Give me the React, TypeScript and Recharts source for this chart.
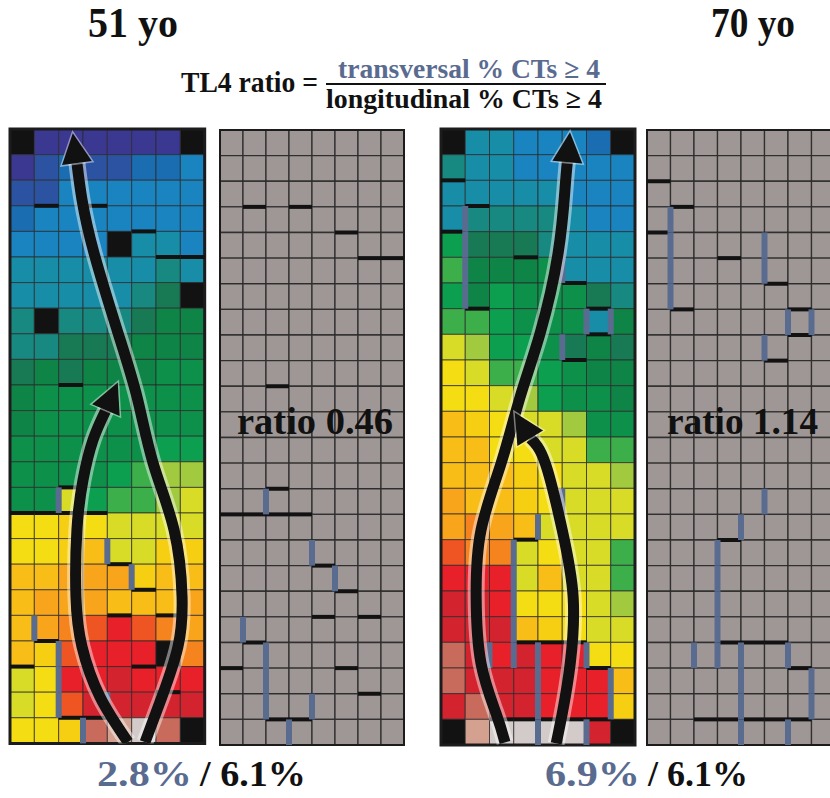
import React from "react";
import { ComposedChart, XAxis, YAxis, ReferenceArea, ReferenceLine, Line } from "recharts";

const COLS = 8;
const ROWS = 24;
const columnIds = Array.from({ length: COLS }, (_, i) => i);
const rowIds = Array.from({ length: ROWS }, (_, i) => i);

// activation-time levels, early (pacing site) -> late
const levelColors = [
  "#d3cbca", "#d4a08f", "#c86b5c", "#d2232f", "#e8202a", "#ef5523", "#f5841f", "#f8a51b",
  "#f9bd17", "#f6cf12", "#f4dd12", "#d8dc27", "#a2ca3f", "#3cae4a", "#0d9f50", "#0d914a",
  "#0e8446", "#177a55", "#178981", "#188da8", "#1a84c0", "#1b6db2", "#2c53a1", "#3b3891",
];
const NO_DATA = "#121212";
const GRAY = "#9f9795";
const SLATE = "#5a6b90";
const SERIF = '"Liberation Serif", "Times New Roman", serif';

// -1 = no data
const levels51 = [
  [-1, 23, 23, 23, 23, 23, 23, -1],
  [23, 22, 21, 22, 22, 21, 21, 20],
  [22, 22, 20, 20, 20, 20, 20, 20],
  [21, 20, 20, 20, 20, 20, 20, 20],
  [20, 20, 20, 20, -1, 19, 19, 20],
  [19, 19, 19, 19, 19, 19, 18, 19],
  [19, 19, 19, 19, 19, 18, 17, -1],
  [18, -1, 18, 18, 18, 17, 16, 16],
  [18, 18, 17, 17, 17, 16, 16, 16],
  [17, 16, 17, 16, 16, 16, 15, 15],
  [16, 15, 15, 15, 15, 15, 15, 15],
  [16, 15, 15, 15, 15, 15, 15, 15],
  [15, 15, 15, 15, 15, 15, 14, 14],
  [15, 15, 15, 15, 14, 13, 12, 12],
  [15, 15, 11, 14, 13, 13, 12, 11],
  [10, 10, 9, 10, 11, 11, 11, 11],
  [10, 10, 9, 8, 11, 11, 9, 9],
  [8, 8, 7, 7, 7, 9, 8, 8],
  [8, 7, 7, 7, 8, 8, 8, 7],
  [8, 7, 6, 5, 4, 5, 6, 7],
  [8, 9, 5, 4, 4, 4, -1, 6],
  [11, 10, 4, 4, 3, 4, 4, 4],
  [11, 10, 5, 3, 3, 3, 3, 3],
  [10, 10, 9, 2, 1, 0, 2, -1],
];

const levels70 = [
  [-1, 19, 19, 20, 20, 20, 21, -1],
  [18, 19, 19, 20, 20, 20, 20, 20],
  [19, 19, 19, 19, 19, 20, 20, 20],
  [19, 18, 18, 18, 18, 19, 20, 20],
  [14, 17, 17, 17, 18, 19, 19, 19],
  [13, 16, 16, 16, 15, 19, 19, 19],
  [14, 16, 14, 15, 15, 15, 17, 18],
  [13, 13, 14, 15, 15, 15, 19, 16],
  [11, 12, 14, 14, 15, 17, 16, 17],
  [10, 11, 13, 13, 14, 15, 16, 16],
  [10, 10, 11, 12, 14, 15, 15, 16],
  [8, 9, 10, 11, 11, 12, 15, 15],
  [8, 8, 10, 10, 11, 11, 13, 13],
  [8, 8, 8, 9, 10, 11, 11, 12],
  [7, 8, 8, 9, 10, 11, 11, 11],
  [7, 6, 7, 8, 11, 11, 11, 11],
  [5, 6, 6, 11, 10, 11, 11, 13],
  [4, 4, 4, 11, 8, 11, 11, 13],
  [3, 3, 4, 10, 10, 10, 11, 12],
  [3, 3, 3, 8, 9, 10, 11, 11],
  [2, 3, 4, 3, 4, 4, 10, 10],
  [2, 3, 3, 3, 4, 4, 4, 8],
  [3, 2, 3, 3, 4, 4, 4, 9],
  [-1, 1, 0, 0, 0, 0, 3, -1],
];

// conduction block: longitudinal = [row boundary, column], transversal = [column boundary, row]
const longBlocks51 = [
  [3, 1], [3, 3], [4, 5], [5, 6], [5, 7], [10, 2], [14, 2], [15, 0], [15, 1], [15, 2], [15, 3],
  [17, 4], [18, 5], [19, 4], [19, 6], [20, 1], [21, 0], [21, 5], [22, 6], [23, 2], [23, 3],
];
const transBlocks51 = [
  [2, 14], [4, 16], [5, 17], [1, 19], [2, 20], [2, 21], [2, 22], [4, 22], [3, 23],
];
const longBlocks70 = [
  [2, 0], [3, 1], [4, 0], [5, 3], [6, 5], [7, 1], [7, 6], [8, 6], [9, 5], [16, 3],
  [20, 3], [20, 4], [20, 5], [21, 6], [23, 2], [23, 3], [23, 4], [23, 5], [23, 6],
];
const transBlocks70 = [
  [1, 3], [1, 4], [1, 5], [1, 6], [5, 4], [5, 5], [6, 7], [7, 7], [5, 8], [5, 14], [4, 15],
  [3, 16], [3, 17], [3, 18], [3, 19], [3, 20], [2, 20], [4, 20], [6, 20], [4, 21], [4, 22],
  [4, 23], [7, 21], [7, 22], [6, 23],
];

// propagation arrows, [column, row] from start to arrow-head base
const arrows51 = [
  [[5.55, 23.95], [6.24, 22.19], [6.9, 20.23], [7.07, 18.28], [6.74, 15.66], [5.88, 13.05],
   [5.22, 10.47], [4.44, 7.97], [3.45, 4.84], [2.96, 2.77], [2.75, 1.33]],
  [[4.85, 23.95], [3.7, 22.19], [2.96, 20.23], [2.71, 18.28], [2.75, 15.66], [3.0, 13.71],
   [3.41, 12.15], [3.94, 10.98]],
];
const arrows70 = [
  [[2.64, 23.9], [2.27, 22.77], [1.65, 20.82], [1.45, 18.25], [1.65, 15.63], [2.48, 13.02],
   [3.26, 10.45], [4.09, 7.95], [4.83, 4.83], [5.12, 2.26], [5.21, 1.29]],
  [[4.75, 23.94], [5.0, 22.77], [5.33, 20.82], [5.45, 18.25], [5.0, 15.63], [4.3, 13.02],
   [3.68, 12.05]],
];

const PAD = 2;

const arrowHead = (pts: any[], cw: number, ch: number) => (props: any) => {
  const { cx, cy, index } = props;
  if (index !== pts.length - 1) return <g key={`d-${index}`} />;
  const p = pts[index];
  const q = pts[index - 1];
  const dx = (p.x - q.x) * cw;
  const dy = (p.y - q.y) * ch;
  const len = Math.hypot(dx, dy) || 1;
  const ux = dx / len;
  const uy = dy / len;
  const L = 30;
  const W = 15;
  const tip = `${cx + ux * L},${cy + uy * L}`;
  const a = `${cx - uy * W},${cy + ux * W}`;
  const b = `${cx + uy * W},${cy - ux * W}`;
  return (
    <polygon key={`d-${index}`} points={`${tip} ${a} ${b}`} fill="#111" stroke="#fff"
      strokeOpacity={0.45} strokeWidth={3} style={{ paintOrder: "stroke" }} />
  );
};

function GridPanel({ left, top, width, height, levels, longBlocks, transBlocks, arrows }: any) {
  const cw = width / COLS;
  const ch = height / ROWS;
  const heat = !!levels;
  return (
    <div style={{ position: "absolute", left: left - PAD, top: top - PAD }}>
      <ComposedChart width={width + 2 * PAD} height={height + 2 * PAD}
        margin={{ top: PAD, right: PAD, bottom: PAD, left: PAD }}>
        <XAxis type="number" dataKey="x" domain={[0, COLS]} hide allowDataOverflow />
        <YAxis type="number" dataKey="y" domain={[0, ROWS]} reversed hide allowDataOverflow />
        {rowIds.map((r) =>
          columnIds.map((c) => {
            const lv = heat ? levels[r][c] : 0;
            const fill = !heat ? GRAY : lv < 0 ? NO_DATA : levelColors[lv];
            return (
              <ReferenceArea key={`cell-${r}-${c}`} x1={c} x2={c + 1} y1={r} y2={r + 1}
                fill={fill} fillOpacity={1} stroke="#2a2a2a" strokeWidth={heat ? 1 : 1.3}
                strokeOpacity={heat ? 0.75 : 0.9} ifOverflow="visible" />
            );
          })
        )}
        <ReferenceArea x1={0} x2={COLS} y1={0} y2={ROWS} fill="none" stroke="#1c1c1c"
          strokeWidth={heat ? 3 : 2} ifOverflow="visible" />
        {longBlocks.map(([b, c]: number[]) => (
          <ReferenceLine key={`h-${b}-${c}`} segment={[{ x: c, y: b }, { x: c + 1, y: b }]}
            stroke="#121212" strokeWidth={4} ifOverflow="visible" />
        ))}
        {transBlocks.map(([c, r]: number[]) => (
          <ReferenceLine key={`v-${c}-${r}`} segment={[{ x: c, y: r }, { x: c, y: r + 1 }]}
            stroke={SLATE} strokeWidth={6} ifOverflow="visible" />
        ))}
        {(arrows || []).map((path: number[][], i: number) => {
          const pts = path.map(([x, y]) => ({ x, y }));
          return [
            <Line key={`glow-${i}`} data={pts} dataKey="y" type="natural" stroke="#ffffff"
              strokeOpacity={0.45} strokeWidth={17} dot={false} activeDot={false}
              isAnimationActive={false} />,
            <Line key={`arrow-${i}`} data={pts} dataKey="y" type="natural" stroke="#111"
              strokeWidth={11} dot={arrowHead(pts, cw, ch)} activeDot={false}
              isAnimationActive={false} />,
          ];
        })}
      </ComposedChart>
    </div>
  );
}

export default function App() {
  const bold = { fontFamily: SERIF, fontWeight: 700 } as const;
  return (
    <div style={{ position: "absolute", left: 0, top: 0, width: 830, height: 798,
      overflow: "hidden", background: "#fff" }}>
      <GridPanel left={10} top={129} width={194.7} height={614.4} levels={levels51}
        longBlocks={longBlocks51} transBlocks={transBlocks51} arrows={arrows51} />
      <GridPanel left={220} top={130} width={184} height={615}
        longBlocks={longBlocks51} transBlocks={transBlocks51} />
      <GridPanel left={441} top={129} width={194} height={616} levels={levels70}
        longBlocks={longBlocks70} transBlocks={transBlocks70} arrows={arrows70} />
      <GridPanel left={647} top={130} width={188} height={615}
        longBlocks={longBlocks70} transBlocks={transBlocks70} />
      <svg width={830} height={798} style={{ position: "absolute", left: 0, top: 0, pointerEvents: "none" }}>
        <text x={133} y={37} textAnchor="middle" fontSize={42} textLength={90}
          lengthAdjust="spacingAndGlyphs" fill="#111" style={bold}>51 yo</text>
        <text x={753} y={37} textAnchor="middle" fontSize={42} textLength={84}
          lengthAdjust="spacingAndGlyphs" fill="#111" style={bold}>70 yo</text>
        <text x={181} y={92} fontSize={29} textLength={137} lengthAdjust="spacingAndGlyphs"
          fill="#111" style={bold}>TL4 ratio =</text>
        <text x={469} y={78} textAnchor="middle" fontSize={27} textLength={262}
          lengthAdjust="spacingAndGlyphs" fill={SLATE} style={bold}>transversal % CTs ≥ 4</text>
        <line x1={326} x2={606} y1={84} y2={84} stroke="#111" strokeWidth={2} />
        <text x={464} y={108} textAnchor="middle" fontSize={27} textLength={276}
          lengthAdjust="spacingAndGlyphs" fill="#111" style={bold}>longitudinal % CTs ≥ 4</text>
        <text x={237} y={434} fontSize={38} textLength={156} lengthAdjust="spacingAndGlyphs"
          fill="#111" style={bold}>ratio 0.46</text>
        <text x={667} y={434} fontSize={38} textLength={151} lengthAdjust="spacingAndGlyphs"
          fill="#111" style={bold}>ratio 1.14</text>
        <text x={97} y={786} fontSize={36} textLength={95} lengthAdjust="spacingAndGlyphs"
          fill={SLATE} style={bold}>2.8%</text>
        <text x={200} y={786} fontSize={36} textLength={106} lengthAdjust="spacingAndGlyphs"
          fill="#111" style={bold}>/ 6.1%</text>
        <text x={545} y={786} fontSize={36} textLength={95} lengthAdjust="spacingAndGlyphs"
          fill={SLATE} style={bold}>6.9%</text>
        <text x={648} y={786} fontSize={36} textLength={100} lengthAdjust="spacingAndGlyphs"
          fill="#111" style={bold}>/ 6.1%</text>
      </svg>
    </div>
  );
}
